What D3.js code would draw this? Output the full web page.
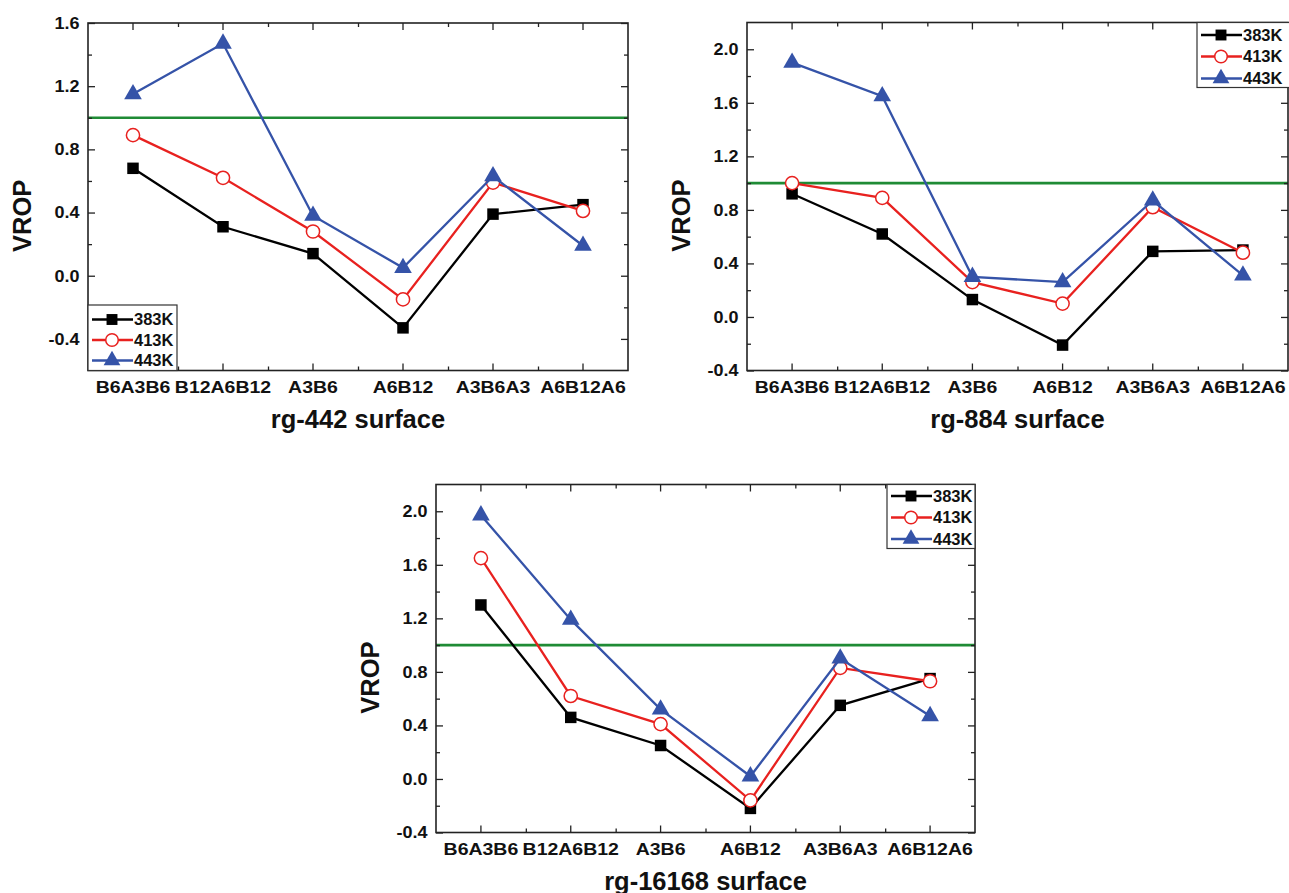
<!DOCTYPE html>
<html><head><meta charset="utf-8">
<script src="https://cdn.jsdelivr.net/npm/d3@7/dist/d3.min.js"></script>
<style>
html,body{margin:0;padding:0;background:#fff;}
svg{display:block;font-family:"Liberation Sans",Arial,sans-serif;font-weight:bold;}
</style></head>
<body>
<svg id="chart" width="1289" height="893"></svg>
<script>
// ---- data ----
const categories = ["B6A3B6","B12A6B12","A3B6","A6B12","A3B6A3","A6B12A6"];
const seriesNames = ["383K","413K","443K"];
const referenceValue = 1.0;

const rg442_383K = [0.68, 0.31, 0.14, -0.33, 0.39, 0.45];
const rg442_413K = [0.89, 0.62, 0.28, -0.15, 0.59, 0.41];
const rg442_443K = [1.15, 1.47, 0.38, 0.05, 0.63, 0.19];

const rg884_383K = [0.92, 0.62, 0.13, -0.21, 0.49, 0.50];
const rg884_413K = [1.00, 0.89, 0.26, 0.10, 0.82, 0.48];
const rg884_443K = [1.90, 1.65, 0.30, 0.26, 0.87, 0.31];

const rg16168_383K = [1.30, 0.46, 0.25, -0.22, 0.55, 0.75];
const rg16168_413K = [1.65, 0.62, 0.41, -0.16, 0.83, 0.73];
const rg16168_443K = [1.97, 1.19, 0.52, 0.02, 0.90, 0.47];

const ticksA = [-0.4, 0.0, 0.4, 0.8, 1.2, 1.6];
const ticksB = [-0.4, 0.0, 0.4, 0.8, 1.2, 1.6, 2.0];

// ---- styles ----
const colors = ["#000000", "#e8211f", "#3553a8"];
const symbols = [d3.symbolSquare, null, d3.symbolTriangle];
const green = "#1f8b35";
const FONT = "Liberation Sans, Arial, sans-serif";

const panels = [
  {title:"rg-442 surface", x0:88, x1:628, y0:23, y1:370.5, domain:[-0.6,1.6], ticks:ticksA,
   series:[rg442_383K, rg442_413K, rg442_443K],
   legend:{x:88, y:305, w:89, h:65.5, rows:[319.5,340,360.5]}},
  {title:"rg-884 surface", x0:747, x1:1288, y0:22.5, y1:370.5, domain:[-0.4,2.2], ticks:ticksB,
   series:[rg884_383K, rg884_413K, rg884_443K],
   legend:{x:1197, y:22.5, w:110, h:65, rows:[35,56.5,78.5]}},
  {title:"rg-16168 surface", x0:436, x1:975, y0:484.5, y1:832.5, domain:[-0.4,2.2], ticks:ticksB,
   series:[rg16168_383K, rg16168_413K, rg16168_443K],
   legend:{x:887, y:484.5, w:88, h:64, rows:[496,517.5,539]}}
];

const svg = d3.select("#chart");
svg.append("rect").attr("width",1289).attr("height",893).attr("fill","#fff");

function drawMarker(g, i, cx, cy, scale) {
  scale = scale || 1;
  if (i === 1) {
    g.append("circle").attr("cx",cx).attr("cy",cy).attr("r",6.6*scale)
      .attr("fill","#fff").attr("stroke",colors[1]).attr("stroke-width",1.5);
  } else {
    const size = i === 0 ? 132 : 135;
    g.append("path").attr("d", d3.symbol().type(symbols[i]).size(size*scale*scale)())
      .attr("transform",`translate(${cx},${cy})`).attr("fill",colors[i]);
  }
}

panels.forEach(p => {
  const g = svg.append("g");
  const x = d3.scaleBand().domain(categories).range([p.x0, p.x1]).paddingInner(0).paddingOuter(0);
  const xl = d3.scaleLinear().domain([0, categories.length]).range([p.x0, p.x1]);
  const y = d3.scaleLinear().domain(p.domain).range([p.y1, p.y0]);
  const minorY = p.ticks.map(t => +(t + 0.2).toFixed(2)).concat([+(p.ticks[0] - 0.2).toFixed(2)])
    .filter(t => t > p.domain[0] && t < p.domain[1]);
  const minorX = d3.range(1, categories.length);

  // reference line
  g.append("line").attr("x1",p.x0).attr("x2",p.x1)
    .attr("y1",y(referenceValue)).attr("y2",y(referenceValue))
    .attr("stroke",green).attr("stroke-width",2.6);

  // axes
  const styleAxis = a => { a.select(".domain").remove(); a.selectAll("line").attr("stroke","#222").attr("stroke-width",1.3); };
  const left = g.append("g").attr("transform",`translate(${p.x0},0)`)
    .call(d3.axisLeft(y).tickValues(p.ticks).tickFormat(d => d.toFixed(1)).tickSizeInner(-7).tickSizeOuter(0).tickPadding(8));
  left.selectAll("text").attr("font-size",17).attr("fill","#111").attr("font-weight","bold")
    .attr("font-family",FONT).attr("transform","scale(1.06,1)");
  styleAxis(left);
  const leftMinor = g.append("g").attr("transform",`translate(${p.x0},0)`)
    .call(d3.axisLeft(y).tickValues(minorY).tickFormat("").tickSizeInner(-4).tickSizeOuter(0));
  styleAxis(leftMinor);
  const right = g.append("g").attr("transform",`translate(${p.x1},0)`)
    .call(d3.axisRight(y).tickValues(p.ticks).tickFormat("").tickSizeInner(-7).tickSizeOuter(0));
  styleAxis(right);
  const rightMinor = g.append("g").attr("transform",`translate(${p.x1},0)`)
    .call(d3.axisRight(y).tickValues(minorY).tickFormat("").tickSizeInner(-4).tickSizeOuter(0));
  styleAxis(rightMinor);

  const bottom = g.append("g").attr("transform",`translate(0,${p.y1})`)
    .call(d3.axisBottom(x).tickSizeInner(-7).tickSizeOuter(0).tickPadding(11));
  bottom.selectAll("text").attr("font-size",16.8).attr("fill","#111").attr("font-weight","bold")
    .attr("font-family",FONT).attr("transform","scale(1.16,1)");
  styleAxis(bottom);
  const bottomMinor = g.append("g").attr("transform",`translate(0,${p.y1})`)
    .call(d3.axisBottom(xl).tickValues(minorX).tickFormat("").tickSizeInner(-4).tickSizeOuter(0));
  styleAxis(bottomMinor);
  const top = g.append("g").attr("transform",`translate(0,${p.y0})`)
    .call(d3.axisTop(x).tickFormat("").tickSizeInner(-7).tickSizeOuter(0));
  styleAxis(top);
  const topMinor = g.append("g").attr("transform",`translate(0,${p.y0})`)
    .call(d3.axisTop(xl).tickValues(minorX).tickFormat("").tickSizeInner(-4).tickSizeOuter(0));
  styleAxis(topMinor);

  // series
  const line = d3.line().x((d,i) => x(categories[i]) + x.bandwidth()/2).y(d => y(d));
  p.series.forEach((vals, si) => {
    g.append("path").datum(vals).attr("d", line).attr("fill","none")
      .attr("stroke", colors[si]).attr("stroke-width", 2.3);
    vals.forEach((v, i) => drawMarker(g, si, x(categories[i]) + x.bandwidth()/2, y(v)));
  });

  // frame
  g.append("rect").attr("x",p.x0).attr("y",p.y0).attr("width",p.x1-p.x0).attr("height",p.y1-p.y0)
    .attr("fill","none").attr("stroke","#222").attr("stroke-width",1.6);

  // legend
  const L = p.legend;
  const lg = g.append("g");
  lg.append("rect").attr("x",L.x).attr("y",L.y).attr("width",L.w).attr("height",L.h)
    .attr("fill","#fff").attr("stroke","#333").attr("stroke-width",1.2);
  seriesNames.forEach((name, si) => {
    const ry = L.rows[si];
    lg.append("line").attr("x1",L.x+4).attr("x2",L.x+45).attr("y1",ry).attr("y2",ry)
      .attr("stroke",colors[si]).attr("stroke-width",2.3);
    drawMarker(lg, si, L.x+24, ry, 0.95);
    lg.append("text").attr("x",L.x+46).attr("y",ry).attr("dy","0.36em")
      .attr("font-size",16.5).attr("fill","#111").text(name);
  });

  // axis titles
  g.append("text").attr("x",(p.x0+p.x1)/2).attr("y",p.y1+57).attr("text-anchor","middle")
    .attr("font-size",25.5).attr("fill","#111").text(p.title);
  g.append("text").attr("transform",`translate(${p.x0-57},${(p.y0+p.y1)/2+19}) rotate(-90)`)
    .attr("text-anchor","middle").attr("font-size",25.5).attr("fill","#111").text("VROP");
});
</script>
</body></html>
